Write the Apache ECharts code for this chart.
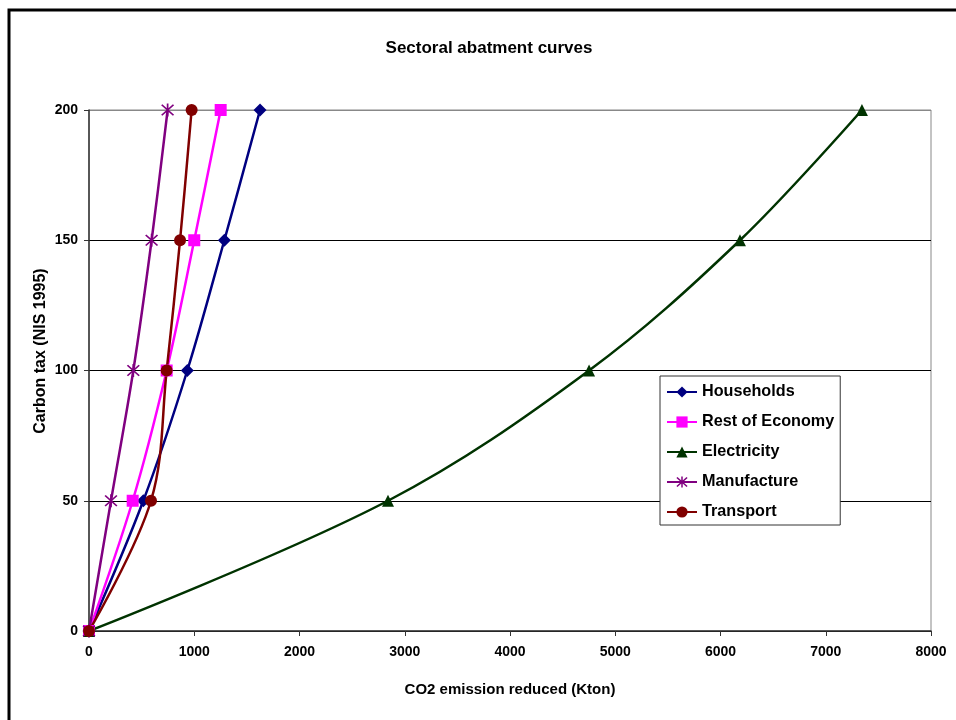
<!DOCTYPE html>
<html>
<head>
<meta charset="utf-8">
<script src="https://cdn.jsdelivr.net/npm/echarts@6/dist/echarts.min.js"></script>
<style>
html,body{margin:0;padding:0;background:#fff;}
#chart{width:956px;height:720px;}
</style>
</head>
<body>
<div id="chart"></div>
<script>
var taxLevels = [0, 50, 100, 150, 200];
var households = [0, 516, 934, 1286, 1625];
var restOfEconomy = [0, 415, 738, 1000, 1251];
var electricity = [0, 2841, 4751, 6185, 7344];
var manufacture = [0, 209, 421, 595, 747];
var transport = [0, 589, 738, 865, 975];

var xTicks = [0, 1000, 2000, 3000, 4000, 5000, 6000, 7000, 8000];
var yTicks = [0, 50, 100, 150, 200];

function pairs(xs) { return xs.map(function (v, i) { return [v, taxLevels[i]]; }); }

var FONT = 'Liberation Sans, Arial, sans-serif';
var asterisk = 'path://M-0.7,-6L0.7,-6L0.7,6L-0.7,6Z M-5.3,-4.3L-4.3,-5.3L5.3,4.3L4.3,5.3Z M4.3,-5.3L5.3,-4.3L-4.3,5.3L-5.3,4.3Z';

function mk(name, data, color, symbol, size) {
  return {
    name: name, type: 'line', data: pairs(data), smooth: 0.35,
    symbol: symbol, symbolSize: size, showSymbol: true,
    lineStyle: { color: color, width: 2.5 },
    itemStyle: { color: color },
    emphasis: { disabled: true }, animation: false
  };
}

var chart = echarts.init(document.getElementById('chart'));
chart.setOption({
  backgroundColor: '#fff',
  animation: false,
  grid: { left: 89, right: 25, top: 110, bottom: 89, show: true, borderColor: '#888', borderWidth: 1, backgroundColor: '#fff' },
  xAxis: {
    type: 'value', min: xTicks[0], max: xTicks[xTicks.length - 1], interval: 1000,
    axisLine: { show: true, onZero: false, lineStyle: { color: '#333', width: 1.5 } },
    axisTick: { show: true, length: 5, lineStyle: { color: '#333' } },
    axisLabel: { color: '#000', fontFamily: FONT, fontWeight: 'bold', fontSize: 14, margin: 14, formatter: function (v) { return String(v); } },
    splitLine: { show: false }
  },
  yAxis: {
    type: 'value', min: yTicks[0], max: yTicks[yTicks.length - 1], interval: 50,
    axisLine: { show: true, onZero: false, lineStyle: { color: '#333', width: 1.5 } },
    axisTick: { show: true, length: 5, lineStyle: { color: '#333' } },
    axisLabel: { color: '#000', fontFamily: FONT, fontWeight: 'bold', fontSize: 14, margin: 11 },
    splitLine: { show: true, lineStyle: { color: ['#000', '#000', '#000', '#000', '#888'], width: 1 } }
  },
  legend: {
    orient: 'vertical', left: 660, top: 376,
    padding: [8, 6, 5, 6], itemGap: 14, itemWidth: 30, itemHeight: 14,
    backgroundColor: '#fff', borderColor: '#333', borderWidth: 1,
    textStyle: { color: '#000', fontFamily: FONT, fontWeight: 'bold', fontSize: 16.2 },
    data: ['Households', 'Rest of Economy', 'Electricity', 'Manufacture', 'Transport']
  },
  graphic: [
    { type: 'rect', shape: { x: 9, y: 10, width: 960, height: 720 }, style: { fill: 'none', stroke: '#000', lineWidth: 3 }, z: 100 },
    { type: 'text', x: 489, y: 48, style: { text: 'Sectoral abatment curves', fontFamily: FONT, fontWeight: 'bold', fontSize: 17, fill: '#000', textAlign: 'center', textVerticalAlign: 'middle' } },
    { type: 'text', x: 510, y: 690, style: { text: 'CO2 emission reduced (Kton)', fontFamily: FONT, fontWeight: 'bold', fontSize: 15, fill: '#000', textAlign: 'center', textVerticalAlign: 'middle' } },
    { type: 'text', x: 41, y: 351, rotation: Math.PI / 2, style: { text: 'Carbon tax (NIS 1995)', fontFamily: FONT, fontWeight: 'bold', fontSize: 16, fill: '#000', textAlign: 'center', textVerticalAlign: 'middle' } }
  ],
  series: [
    mk('Households', households, '#000080', 'diamond', 13),
    mk('Rest of Economy', restOfEconomy, '#FF00FF', 'rect', 12),
    mk('Electricity', electricity, '#003300', 'triangle', 12),
    mk('Manufacture', manufacture, '#800080', asterisk, 13),
    mk('Transport', transport, '#800000', 'circle', 12)
  ]
});
</script>
</body>
</html>
